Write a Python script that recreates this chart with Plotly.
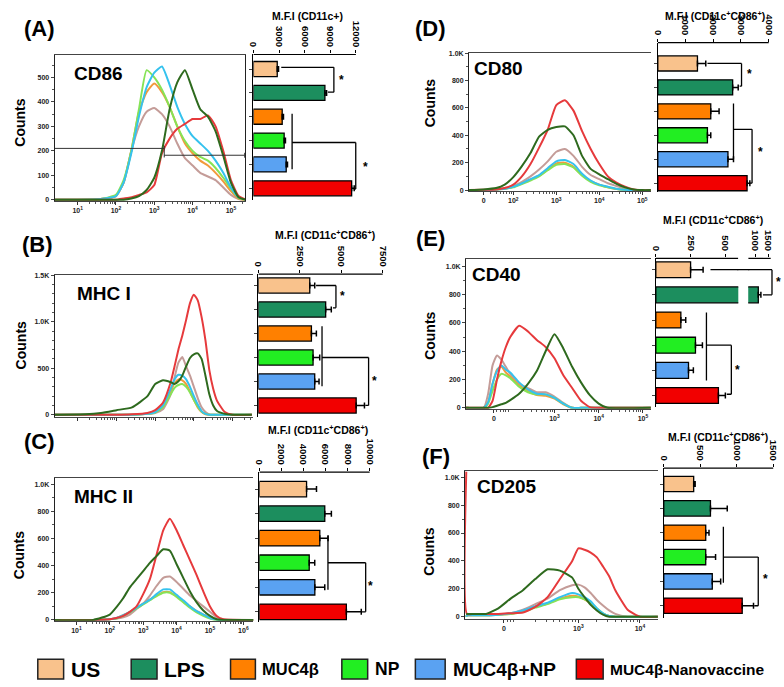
import math
import plotly.graph_objects as go

W, H = 784, 687
FONT = "Arial, Liberation Sans, sans-serif"

groups = ["US", "LPS", "MUC4β", "NP", "MUC4β+NP", "MUC4β-Nanovaccine"]
bar_colors = ["#F9C28C", "#1C8E5E", "#FF8000", "#22EE22", "#5AA2F2", "#F20000"]
hist_colors = ["#C49C98", "#2E6A1E", "#F29A3C", "#86E356", "#35C2EE", "#E63A3C"]

# ---------------- (A) CD86 ----------------
cd86_x = [0.4, 1.0, 1.6, 2.0, 2.2, 2.4, 2.6, 2.8, 3.0, 3.2, 3.4, 3.6, 3.8, 4.0, 4.2, 4.4, 4.6, 4.8, 5.0, 5.2, 5.4]
cd86_us = [0, 0, 3, 15, 70, 200, 300, 360, 375, 350, 300, 230, 170, 140, 110, 95, 80, 50, 20, 3, 0]
cd86_lps = [0, 0, 0, 0, 0, 5, 15, 40, 90, 200, 370, 480, 530, 450, 370, 340, 280, 180, 70, 10, 0]
cd86_muc = [0, 0, 3, 15, 70, 200, 360, 440, 475, 440, 380, 300, 230, 190, 160, 140, 110, 75, 35, 5, 0]
cd86_np = [0, 0, 3, 20, 80, 200, 370, 530, 500, 450, 380, 300, 240, 200, 175, 160, 130, 90, 45, 8, 0]
cd86_mucnp = [0, 0, 3, 15, 70, 190, 340, 460, 520, 545, 470, 380, 310, 260, 230, 200, 160, 110, 50, 10, 0]
cd86_nano = [0, 0, 0, 0, 5, 10, 20, 30, 60, 190, 250, 290, 310, 330, 330, 345, 300, 200, 80, 15, 0]
cd86_mfi = [2790, 8370, 3370, 3600, 3840, 11500]
cd86_err = [150, 200, 150, 150, 150, 300]

# ---------------- (B) MHC I ----------------
mhc1_x = [0.4, 1.2, 1.6, 2.0, 2.4, 2.8, 3.0, 3.2, 3.4, 3.5, 3.6, 3.7, 3.8, 3.9, 4.0, 4.1, 4.2, 4.3, 4.4, 4.5, 4.6, 4.8, 5.0, 5.5]
mhc1_us = [0, 0, 0, 0, 0, 10, 20, 60, 220, 400, 560, 620, 520, 420, 300, 180, 80, 30, 5, 0, 0, 0, 0, 0]
mhc1_lps = [0, 5, 20, 50, 80, 200, 330, 370, 350, 330, 360, 420, 520, 610, 650, 660, 600, 420, 220, 100, 40, 10, 0, 0]
mhc1_muc = [0, 0, 0, 0, 0, 10, 30, 100, 260, 340, 380, 370, 330, 250, 160, 80, 30, 5, 0, 0, 0, 0, 0, 0]
mhc1_np = [0, 0, 0, 0, 0, 10, 25, 80, 220, 290, 320, 330, 300, 240, 160, 90, 35, 10, 0, 0, 0, 0, 0, 0]
mhc1_mucnp = [0, 0, 0, 0, 0, 10, 30, 100, 280, 380, 430, 420, 380, 300, 200, 110, 40, 10, 0, 0, 0, 0, 0, 0]
mhc1_nano = [0, 0, 0, 0, 5, 20, 50, 130, 350, 520, 700, 850, 1020, 1200, 1290, 1230, 1050, 800, 480, 280, 150, 30, 0, 0]
mhc1_mfi = [3100, 4060, 3200, 3300, 3400, 5900]
mhc1_err = [300, 340, 300, 400, 260, 500]

# ---------------- (C) MHC II ----------------
mhc2_x = [0.35, 1.5, 2.0, 2.2, 2.4, 2.6, 2.8, 3.0, 3.2, 3.4, 3.6, 3.8, 4.0, 4.2, 4.4, 4.6, 4.8, 5.0, 5.2, 5.4, 6.3]
mhc2_us = [0, 0, 5, 10, 20, 40, 80, 120, 180, 250, 310, 320, 280, 230, 180, 140, 100, 60, 20, 5, 0]
mhc2_lps = [0, 0, 40, 95, 160, 240, 300, 360, 420, 470, 520, 510, 410, 310, 210, 130, 70, 30, 5, 0, 0]
mhc2_muc = [0, 0, 5, 15, 35, 60, 90, 120, 150, 180, 205, 205, 175, 140, 100, 65, 40, 15, 3, 0, 0]
mhc2_np = [0, 0, 5, 10, 30, 55, 85, 115, 145, 175, 200, 200, 170, 130, 90, 55, 30, 10, 0, 0, 0]
mhc2_mucnp = [0, 0, 5, 15, 35, 60, 90, 120, 150, 190, 225, 225, 185, 145, 100, 65, 40, 15, 3, 0, 0]
mhc2_nano = [0, 0, 5, 15, 30, 60, 100, 190, 300, 480, 660, 745, 660, 550, 440, 330, 210, 100, 30, 5, 0]
mhc2_mfi = [4280, 5930, 5480, 4520, 5030, 7890]
mhc2_err = [900, 600, 750, 500, 900, 1350]

# ---------------- (D) CD80 ----------------
cd80_x = [0.97, 1.3, 1.6, 1.8, 2.0, 2.2, 2.4, 2.6, 2.8, 3.0, 3.2, 3.4, 3.6, 3.8, 4.0, 4.2, 4.4, 4.6, 4.8, 5.0, 5.2]
cd80_us = [0, 0, 5, 15, 30, 60, 100, 150, 210, 280, 300, 250, 170, 110, 80, 50, 30, 10, 2, 0, 0]
cd80_lps = [0, 5, 15, 40, 95, 175, 270, 390, 440, 460, 465, 400, 250, 155, 115, 80, 45, 20, 5, 0, 0]
cd80_muc = [0, 0, 5, 10, 25, 50, 75, 105, 150, 195, 200, 170, 110, 65, 40, 20, 8, 2, 0, 0, 0]
cd80_np = [0, 0, 5, 10, 20, 45, 70, 100, 145, 185, 190, 165, 105, 60, 35, 20, 8, 2, 0, 0, 0]
cd80_mucnp = [0, 0, 5, 10, 25, 50, 80, 110, 160, 210, 220, 190, 120, 70, 40, 25, 10, 2, 0, 0, 0]
cd80_nano = [0, 2, 5, 15, 40, 100, 190, 310, 440, 620, 655, 580, 430, 300, 190, 100, 55, 25, 5, 0, 0]
cd80_mfi = [1430, 2700, 1910, 1790, 2530, 3220]
cd80_err = [300, 200, 300, 120, 200, 100]

# ---------------- (E) CD40 ----------------
cd40_x = [1.0, 1.4, 1.5, 1.6, 1.7, 1.8, 1.9, 2.0, 2.2, 2.4, 2.6, 2.8, 3.0, 3.2, 3.4, 3.6, 3.8, 4.0, 4.2, 5.18]
cd40_us = [0, 0, 100, 300, 370, 340, 290, 240, 170, 140, 110, 110, 80, 35, 0, 0, 0, 0, 0, 0]
cd40_lps = [0, 0, 0, 5, 15, 25, 35, 55, 100, 170, 260, 400, 520, 420, 290, 180, 90, 30, 0, 0]
cd40_muc = [0, 0, 40, 170, 270, 290, 250, 220, 160, 120, 90, 85, 65, 25, 0, 0, 0, 0, 0, 0]
cd40_np = [0, 0, 30, 120, 200, 240, 230, 210, 150, 110, 95, 95, 70, 30, 0, 0, 0, 0, 0, 0]
cd40_mucnp = [0, 0, 40, 170, 260, 300, 270, 250, 180, 130, 100, 95, 70, 30, 0, 0, 0, 0, 0, 0]
cd40_nano = [0, 0, 0, 50, 200, 330, 430, 500, 580, 540, 480, 430, 350, 230, 140, 50, 5, 0, 0, 0]
cd40_mfi = [250, 1120, 180, 285, 235, 450]
cd40_err = [90, 100, 35, 50, 35, 50]

# ---------------- (F) CD205 ----------------
cd205_x = [1.18, 1.19, 1.3, 1.5, 1.7, 1.9, 2.1, 2.3, 2.5, 2.7, 2.9, 3.0, 3.1, 3.2, 3.3, 3.4, 3.5, 3.6, 3.8, 4.0, 4.3]
cd205_us = [0, 10, 10, 10, 15, 25, 50, 90, 130, 190, 225, 230, 210, 170, 120, 80, 45, 20, 0, 0, 0]
cd205_lps = [20, 20, 20, 20, 60, 130, 190, 270, 340, 330, 280, 200, 140, 85, 45, 15, 0, 0, 0, 0, 0]
cd205_muc = [0, 10, 10, 10, 15, 20, 40, 70, 95, 130, 150, 145, 125, 95, 50, 20, 5, 0, 0, 0, 0]
cd205_np = [0, 10, 10, 10, 15, 20, 35, 65, 90, 125, 140, 140, 125, 100, 60, 25, 5, 0, 0, 0, 0]
cd205_mucnp = [0, 10, 10, 10, 15, 25, 45, 75, 100, 140, 170, 160, 140, 110, 60, 25, 5, 0, 0, 0, 0]
cd205_nano = [1040, 20, 20, 20, 20, 25, 30, 70, 140, 270, 400, 490, 480, 460, 425, 360, 290, 190, 50, 0, 0]
cd205_mfi = [410, 640, 575, 575, 665, 1075]
cd205_err = [20, 230, 45, 135, 115, 155]

K = "10<sup>%d</sup>"
panels = [
    dict(label="(A)", lab_px=(35, 25), marker="CD86", mk_px=(67, 70), counts_px=(15, 120),
         x=cd86_x, curves=[cd86_us, cd86_lps, cd86_muc, cd86_np, cd86_mucnp, cd86_nano],
         mfi=cd86_mfi, err=cd86_err,
         hpx=(50, 242, 52, 199), hxr=[0.4, 5.38], hyr=[-5, 590],
         hxt=[1, 2, 3, 4, 5], hxl=[K % i for i in [1, 2, 3, 4, 5]],
         hyt=[0, 100, 200, 300, 400, 500], hyl=["0", "100", "200", "300", "400", "500"], ymin=50,
         bpx=(250, 372, 51, 198), bxmax=14190, byr=[5.49, -0.61],
         bxt=[0, 3000, 6000, 9000, 12000], title="M.F.I (CD11c+)", t_px=(304, 12), box=True),
    dict(label="(B)", lab_px=(33, 243), marker="MHC I", mk_px=(70, 292), counts_px=(17, 345),
         x=mhc1_x, curves=[mhc1_us, mhc1_lps, mhc1_muc, mhc1_np, mhc1_mucnp, mhc1_nano],
         mfi=mhc1_mfi, err=mhc1_err,
         hpx=(50, 250, 274, 417), hxr=[0.4, 5.54], hyr=[-21, 1500],
         hxt=[1, 2, 3, 4, 5], hxl=["", "", "", "", ""],
         hyt=[0, 500, 1000, 1500], hyl=["0", "500", "1.0K", "1.5K"], ymin=100,
         bpx=(255, 390, 273, 417), bxmax=8093, byr=[5.47, -0.47],
         bxt=[0, 2500, 5000, 7500], title="M.F.I (CD11c<sup>+</sup>CD86<sup>+</sup>)", t_px=(322, 233), box=False),
    dict(label="(C)", lab_px=(35, 442), marker="MHC II", mk_px=(67, 498), counts_px=(14, 557),
         x=mhc2_x, curves=[mhc2_us, mhc2_lps, mhc2_muc, mhc2_np, mhc2_mucnp, mhc2_nano],
         mfi=mhc2_mfi, err=mhc2_err,
         hpx=(50, 250, 479, 623), hxr=[0.35, 6.3], hyr=[-5, 1044],
         hxt=[1, 2, 3, 4, 5, 6], hxl=[K % i for i in [1, 2, 3, 4, 5, 6]],
         hyt=[0, 200, 400, 600, 800, 1000], hyl=["0", "200", "400", "600", "800", "1.0K"], ymin=100,
         bpx=(256, 386, 473, 624), bxmax=11713, byr=[5.4, -0.69],
         bxt=[0, 2000, 4000, 6000, 8000, 10000], title="M.F.I (CD11c<sup>+</sup>CD86<sup>+</sup>)", t_px=(315, 430), box=False),
    dict(label="(D)", lab_px=(428, 25), marker="CD80", mk_px=(470, 65), counts_px=(428, 100),
         x=cd80_x, curves=[cd80_us, cd80_lps, cd80_muc, cd80_np, cd80_mucnp, cd80_nano],
         mfi=cd80_mfi, err=cd80_err,
         hpx=(467, 650, 49, 189), hxr=[0.97, 5.2], hyr=[-7, 1004],
         hxt=[1.31, 2, 3, 4, 5], hxl=["0"] + [K % i for i in [2, 3, 4, 5]],
         hyt=[0, 200, 400, 600, 800, 1000], hyl=["0", "200", "400", "600", "800", "1.0K"], ymin=100,
         bpx=(657, 784, 39, 190), bxmax=4552, byr=[5.37, -0.87],
         bxt=[0, 1000, 2000, 3000, 4000], title="M.F.I (CD11c<sup>+</sup>CD86<sup>+</sup>)", t_px=(715, 12), box=False),
    dict(label="(E)", lab_px=(428, 237), marker="CD40", mk_px=(468, 273), counts_px=(427, 335),
         x=cd40_x, curves=[cd40_us, cd40_lps, cd40_muc, cd40_np, cd40_mucnp, cd40_nano],
         mfi=cd40_mfi, err=cd40_err,
         hpx=(464, 650, 258, 409), hxr=[1.0, 5.18], hyr=[-7, 1049],
         hxt=[1.63, 3, 4, 5], hxl=["0"] + [K % i for i in [3, 4, 5]],
         hyt=[0, 200, 400, 600, 800, 1000], hyl=["0", "200", "400", "600", "800", "1.0K"], ymin=100,
         bpx=(655, 738, 257, 407), bxmax=593, byr=[5.45, -0.45],
         bxt=[0, 250, 500], title="M.F.I (CD11c<sup>+</sup>CD86<sup>+</sup>)", t_px=(713, 218), box=False),
    dict(label="(F)", lab_px=(434, 457), marker="CD205", mk_px=(473, 487), counts_px=(427, 553),
         x=cd205_x, curves=[cd205_us, cd205_lps, cd205_muc, cd205_np, cd205_mucnp, cd205_nano],
         mfi=cd205_mfi, err=cd205_err,
         hpx=(463, 657, 472, 621), hxr=[1.16, 4.29], hyr=[-14, 1043],
         hxt=[1.79, 3, 4], hxl=["0"] + [K % i for i in [3, 4]],
         hyt=[0, 200, 400, 600, 800, 1000], hyl=["0", "200", "400", "600", "800", "1.0K"], ymin=100,
         bpx=(663, 784, 469, 620), bxmax=1648, byr=[5.49, -0.65],
         bxt=[0, 500, 1000, 1500], title="M.F.I (CD11c<sup>+</sup>CD86<sup>+</sup>)", t_px=(718, 437), box=False),
]

# significance brackets in bar-data coordinates
brackets = [
    dict(pair=(-0.07, 0.97, 3260, 8720, 9420), pstar=(10350, 0.47),
         group=(1.88, 4.2, 4530, 3.08, 11980, 5.03, 11740), gstar=(13140, 4.12)),
    dict(pair=(0.0, 0.93, 3480, 4500, 4680), pstar=(5100, 0.45),
         group=(1.7, 4.2, 3840, 3.0, 6650, 5.0, 6450), gstar=(7010, 4.0)),
    dict(pair=None, pstar=None,
         group=(1.9, 4.1, 6220, 3.0, 9640, 5.0, 9300), gstar=(10090, 3.96)),
    dict(pair=(0.0, 0.95, 1790, 2950, 3020), pstar=(3300, 0.45),
         group=(1.67, 4.0, 2730, 2.75, 3400, 5.0, 3300), gstar=(3690, 3.7)),
    dict(pair=None, pstar=None,
         group=(1.7, 4.4, 364, 3.0, 543, 4.95, 510), gstar=(586, 4.0)),
    dict(pair=None, pstar=None,
         group=(1.75, 4.05, 817, 3.0, 1295, 5.0, 1240), gstar=(1390, 3.9)),
]


def fx(px):
    return px / W


def fy(py):
    return 1 - py / H


def aname(kind, n):
    return kind + "axis" + ("" if n == 1 else str(n))


def aref(kind, n):
    return kind + ("" if n == 1 else str(n))


fig = go.Figure()
layout = {}
shapes = []
annots = []
LINE = dict(color="black", width=1.3)


def seg(xr, yr, x0, y0, x1, y1, line=LINE):
    shapes.append(dict(type="line", xref=xr, yref=yr, x0=x0, y0=y0, x1=x1, y1=y1, line=line))


def text(px, py, t, size, xanchor="center", angle=0, bold=True, xref="paper", yref="paper", x=None, y=None):
    annots.append(dict(x=fx(px) if x is None else x, y=fy(py) if y is None else y, xref=xref, yref=yref,
                       text=t, showarrow=False, xanchor=xanchor, yanchor="middle", textangle=angle,
                       font=dict(family=FONT, size=size, color="black", weight="bold" if bold else "normal")))


draw_order = [0, 2, 3, 4, 5, 1]

for p, P in enumerate(panels):
    hn, bn = 2 * p + 1, 2 * p + 2
    x0, x1, y0, y1 = P["hpx"]
    lo, hi = P["hxr"]
    minor_vals = [k + math.log10(m) for k in range(0, 7) for m in range(2, 10)
                  if lo < k + math.log10(m) < hi and k + math.log10(m) > P["hxt"][0]]
    layout[aname("x", hn)] = dict(
        domain=[fx(x0), fx(x1)], range=P["hxr"], anchor=aref("y", hn),
        showline=True, linecolor="#444", linewidth=1, mirror=True, showgrid=False, zeroline=False,
        ticks="outside", ticklen=3, tickcolor="#333", tickvals=P["hxt"], ticktext=P["hxl"],
        tickfont=dict(family=FONT, size=7, color="#222", weight="bold"),
        minor=dict(tickvals=minor_vals, ticks="outside", ticklen=2, tickcolor="#555"))
    layout[aname("y", hn)] = dict(
        domain=[fy(y1), fy(y0)], range=P["hyr"], anchor=aref("x", hn),
        showline=True, linecolor="#222", linewidth=1, mirror=P["box"], showgrid=False, zeroline=False,
        ticks="outside", ticklen=3, tickvals=P["hyt"], ticktext=P["hyl"],
        tickfont=dict(family=FONT, size=7, color="#222", weight="bold"),
        minor=dict(dtick=P["ymin"], ticks="outside", ticklen=2, tickcolor="#555"))
    for gi in draw_order:
        fig.add_trace(go.Scatter(x=P["x"], y=P["curves"][gi], mode="lines",
                                 line=dict(color=hist_colors[gi], width=2, shape="spline", smoothing=0.5),
                                 xaxis=aref("x", hn), yaxis=aref("y", hn), hoverinfo="skip"))

    # bar subplot
    bx0, bx1, by0, by1 = P["bpx"]
    layout[aname("x", bn)] = dict(
        domain=[fx(bx0), fx(bx1)], range=[0, P["bxmax"]], anchor=aref("y", bn), side="top",
        showline=False, showgrid=False, zeroline=False, ticks="outside", ticklen=3, tickcolor="black",
        tickvals=P["bxt"], ticktext=[str(v) for v in P["bxt"]], tickangle=90,
        tickfont=dict(family=FONT, size=9.5, color="black", weight="bold"))
    layout[aname("y", bn)] = dict(
        domain=[fy(by1), fy(by0)], range=P["byr"], anchor=aref("x", bn), type="category",
        categoryorder="array", categoryarray=groups,
        showline=True, linecolor="black", linewidth=1.2, ticks="outside", ticklen=3,
        showticklabels=False, showgrid=False, zeroline=False)
    fig.add_trace(go.Bar(y=groups, x=P["mfi"], orientation="h", width=0.63,
                         marker=dict(color=bar_colors, line=dict(color="black", width=1.3)),
                         error_x=dict(type="data", array=P["err"], arrayminus=[0] * 6, symmetric=False,
                                      color="black", thickness=1.5, width=3),
                         xaxis=aref("x", bn), yaxis=aref("y", bn), hoverinfo="skip"))
    top_axis_end = P["bxt"][-1] if p != 4 else P["bxmax"]
    seg(aref("x", bn), aref("y", bn) + " domain", 0, 1, top_axis_end, 1, line=dict(color="black", width=1.2))

    # texts
    text(*P["lab_px"], P["label"], 22)
    text(P["mk_px"][0], P["mk_px"][1], P["marker"], 19, xanchor="left")
    text(*P["counts_px"], "Counts", 14, angle=-90)
    text(*P["t_px"], P["title"], 10.5)

    # brackets
    B = brackets[p]
    xr, yr = aref("x", bn), aref("y", bn)
    if B["pair"] is not None:
        ya, yb, xa, xb, xv = B["pair"]
        seg(xr, yr, xa, ya, xv, ya)
        seg(xr, yr, xv, ya, xv, yb)
        seg(xr, yr, xb, yb, xv, yb)
        text(0, 0, "*", 12, x=B["pstar"][0], y=B["pstar"][1], xref=xr, yref=yr)
    yt, yb2, xv1, ym, xv2, ye, xe = B["group"]
    seg(xr, yr, xv1, yt, xv1, yb2)
    seg(xr, yr, xv1, ym, xv2, ym)
    seg(xr, yr, xv2, ym, xv2, ye)
    seg(xr, yr, xe, ye, xv2, ye)
    text(0, 0, "*", 12, x=B["gstar"][0], y=B["gstar"][1], xref=xr, yref=yr)

# gate line in panel A histogram
seg("x", "y", 0.4, 210, 3.26, 210, line=dict(color="#333", width=1))
seg("x", "y", 3.26, 220, 3.26, 173, line=dict(color="#333", width=1))
seg("x", "y", 3.26, 182, 5.36, 182, line=dict(color="#333", width=1))
seg("x", "y", 5.36, 192, 5.36, 172, line=dict(color="#333", width=1))

# (E) broken axis: upper segment
layout[aname("x", 13)] = dict(
    domain=[fx(748), fx(784)], range=[730, 2115], anchor="y10", side="top",
    showline=False, showgrid=False, zeroline=False, ticks="outside", ticklen=3, tickcolor="black",
    tickvals=[1000, 1500], ticktext=["1000", "1500"], tickangle=90,
    tickfont=dict(family=FONT, size=9.5, color="black", weight="bold"))
fig.add_trace(go.Bar(y=groups, x=cd40_mfi, orientation="h", width=0.63,
                     marker=dict(color=bar_colors, line=dict(color="black", width=1.3)),
                     error_x=dict(type="data", array=cd40_err, arrayminus=[0] * 6, symmetric=False,
                                  color="black", thickness=1.5, width=3),
                     xaxis="x13", yaxis="y10", hoverinfo="skip"))
seg("x13", "y10 domain", 730, 1, 1600, 1, line=dict(color="black", width=1.2))
# E pair bracket spanning the break
seg("x10", "y10", 393, 0.0, 700, 0.0)
seg("paper", "y10", fx(737), 0.0, fx(749), 0.0)
seg("x13", "y10", 700, 0.0, 1650, 0.0)
seg("x13", "y10", 1650, 0.0, 1650, 1.0)
seg("x13", "y10", 1300, 1.0, 1650, 1.0)
text(0, 0, "*", 12, x=1885, y=0.5, xref="x13", yref="y10")

# legend
leg_sw = [(33, 59), (127, 153), (227, 252), (339, 365), (413, 443), (575, 602)]
leg_tx = [(64, 21), (158, 21), (257, 16.5), (370, 17.5), (449, 19), (607, 15.5)]
for i, g in enumerate(groups):
    shapes.append(dict(type="rect", xref="paper", yref="paper", x0=fx(leg_sw[i][0]), x1=fx(leg_sw[i][1]),
                       y0=fy(682), y1=fy(662), fillcolor=bar_colors[i], line=dict(color="#222", width=1.5)))
    text(leg_tx[i][0], 672, g, leg_tx[i][1], xanchor="left")

fig.update_layout(**layout)
fig.update_layout(width=W, height=H, margin=dict(l=0, r=0, t=0, b=0), showlegend=False,
                  paper_bgcolor="white", plot_bgcolor="white", shapes=shapes, annotations=annots,
                  font=dict(family=FONT), barmode="overlay")
fig.write_html("out.html", config={"displayModeBar": False},
               post_script="document.body.style.margin='0px';")
